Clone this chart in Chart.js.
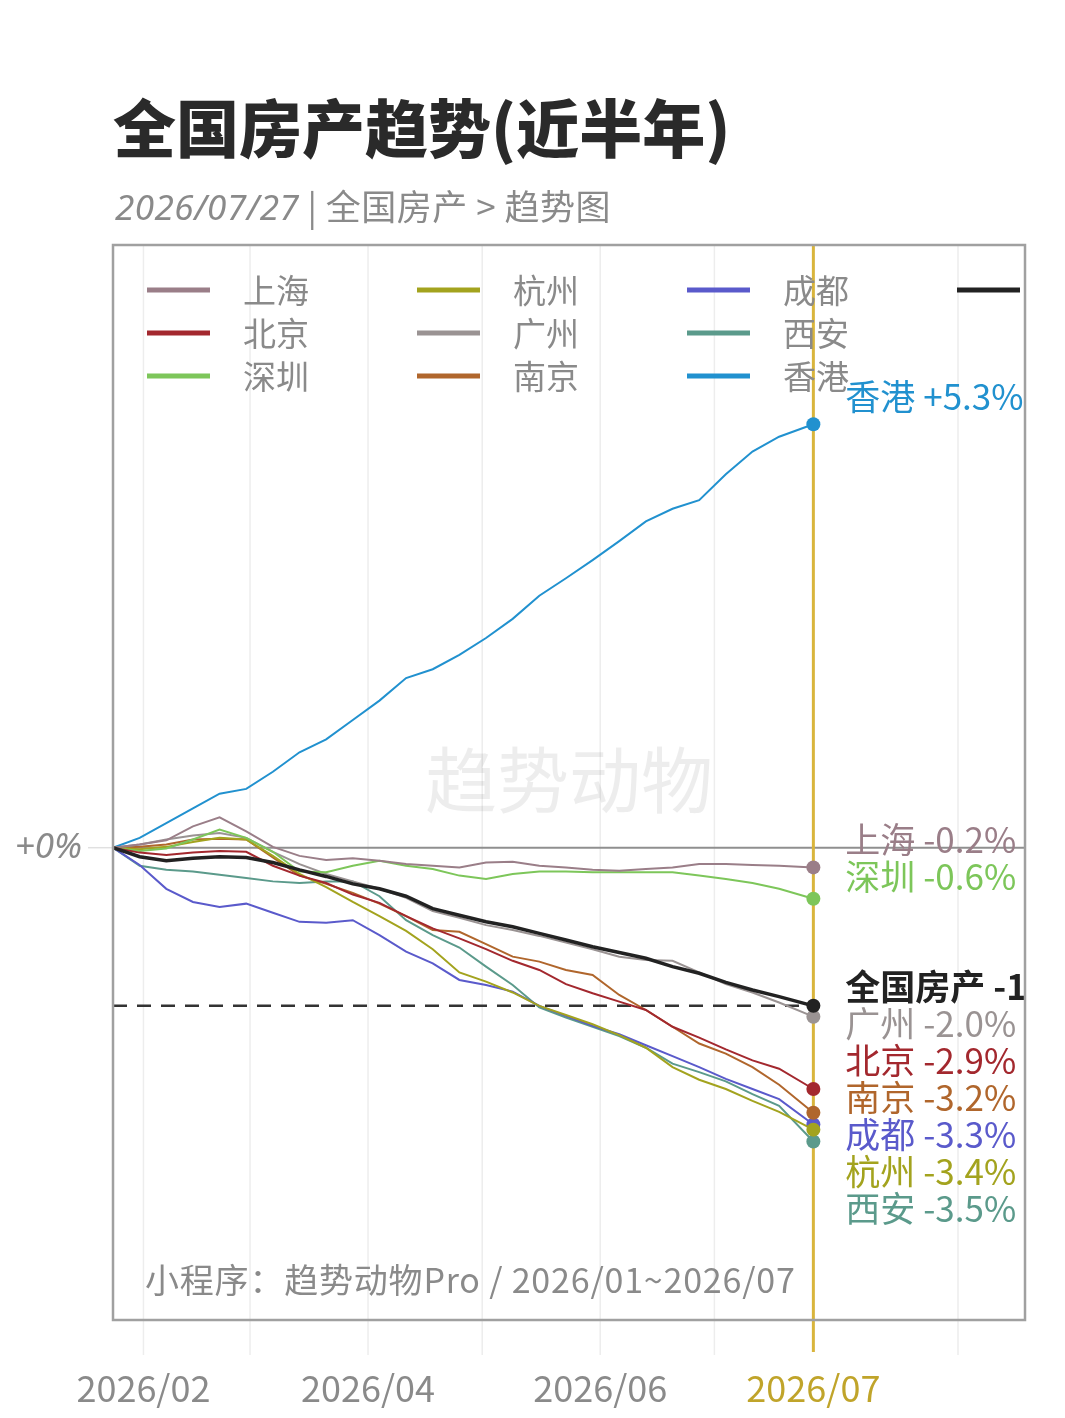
<!DOCTYPE html>
<html lang="zh">
  <head>
    <meta charset="UTF-8" />
    <title>全国房产趋势(近半年)</title>
    <script src="https://cdn.jsdelivr.net/npm/chart.js"></script>
    <style>
      body { margin: 0; background: #fff; font-family: "Noto Sans CJK SC", sans-serif; }
      #wrap { position: relative; width: 1065px; height: 1418px; overflow: hidden; }
      #c { position: absolute; left: 0; top: 0; }
      .title { position: absolute; left: 113px; top: 90px; font-size: 63px; line-height: 70px; font-weight: 900; color: #2a2a2a; }
      .sub { position: absolute; left: 115px; top: 184px; font-size: 35px; line-height: 42px; color: #8a8a8a; letter-spacing: 0.5px; }
      .sub i { font-family: "Noto Sans", sans-serif; }
    </style>
  </head>
  <body>
    <div id="wrap">
      <canvas id="c" width="1065" height="1418"></canvas>
      <div class="title">全国房产趋势(近半年)</div>
      <div class="sub"><i>2026/07/27</i> | 全国房产 &gt; 趋势图</div>
    </div>

    <script>
      // 日期 (2026-01-01 起的天数), 每周一个点, 最后一个是 07/27
      const days = [23, 30, 37, 44, 51, 58, 65, 72, 79, 86, 93, 100, 107, 114, 121, 128, 135, 142, 149, 156, 163, 170, 177, 184, 191, 198, 207];

      // 各城市涨跌幅 (%)
      const shanghai = [0, 0.04, 0.09, 0.26, 0.37, 0.2, 0.01, -0.1, -0.15, -0.13, -0.16, -0.2, -0.22, -0.24, -0.18, -0.17, -0.22, -0.24, -0.27, -0.28, -0.26, -0.24, -0.2, -0.2, -0.21, -0.22, -0.24];
      const beijing = [0, -0.06, -0.09, -0.06, -0.04, -0.05, -0.22, -0.34, -0.43, -0.57, -0.67, -0.83, -0.98, -1.1, -1.23, -1.37, -1.48, -1.65, -1.76, -1.86, -1.96, -2.16, -2.29, -2.43, -2.56, -2.66, -2.9];
      const shenzhen = [0, -0.04, -0.01, 0.1, 0.22, 0.12, -0.05, -0.29, -0.3, -0.22, -0.16, -0.22, -0.26, -0.34, -0.38, -0.32, -0.29, -0.29, -0.3, -0.3, -0.3, -0.3, -0.34, -0.38, -0.43, -0.5, -0.62];
      const hangzhou = [0, -0.02, 0.01, 0.07, 0.12, 0.1, -0.1, -0.32, -0.48, -0.66, -0.83, -1.01, -1.23, -1.51, -1.62, -1.75, -1.91, -2.02, -2.13, -2.26, -2.41, -2.64, -2.79, -2.9, -3.04, -3.17, -3.38];
      const guangzhou = [0, 0.04, 0.1, 0.15, 0.18, 0.12, -0.05, -0.2, -0.32, -0.41, -0.5, -0.61, -0.77, -0.85, -0.94, -1.0, -1.07, -1.15, -1.23, -1.32, -1.36, -1.37, -1.51, -1.65, -1.75, -1.87, -2.04];
      const nanjing = [0, 0.01, 0.04, 0.1, 0.11, 0.1, -0.12, -0.34, -0.44, -0.55, -0.68, -0.83, -1.0, -1.02, -1.17, -1.32, -1.38, -1.48, -1.54, -1.78, -1.96, -2.16, -2.36, -2.48, -2.64, -2.85, -3.18];
      const chengdu = [0, -0.21, -0.5, -0.66, -0.72, -0.68, -0.79, -0.9, -0.91, -0.88, -1.06, -1.26, -1.4, -1.6, -1.66, -1.74, -1.91, -2.03, -2.15, -2.25, -2.38, -2.51, -2.64, -2.78, -2.9, -3.02, -3.32];
      const xian = [0, -0.22, -0.27, -0.29, -0.33, -0.37, -0.41, -0.43, -0.41, -0.41, -0.59, -0.88, -1.06, -1.21, -1.44, -1.66, -1.93, -2.05, -2.16, -2.27, -2.41, -2.6, -2.7, -2.81, -2.96, -3.1, -3.52];
      const hongkong = [0, 0.12, 0.3, 0.48, 0.66, 0.72, 0.93, 1.17, 1.33, 1.57, 1.81, 2.09, 2.2, 2.38, 2.59, 2.83, 3.12, 3.34, 3.57, 3.81, 4.06, 4.22, 4.33, 4.66, 4.95, 5.14, 5.3];
      const national = [0, -0.11, -0.16, -0.13, -0.11, -0.12, -0.18, -0.27, -0.35, -0.44, -0.5, -0.59, -0.74, -0.82, -0.9, -0.96, -1.04, -1.12, -1.2, -1.27, -1.34, -1.44, -1.52, -1.63, -1.72, -1.8, -1.91];

      const names = ["上海", "北京", "深圳", "杭州", "广州", "南京", "成都", "西安", "香港", "全国房产"];
      const series = [shanghai, beijing, shenzhen, hangzhou, guangzhou, nanjing, chengdu, xian, hongkong, national];
      const colors = ["#9a7e88", "#a3282e", "#7dc65a", "#a3a31e", "#9a9393", "#b0662c", "#5a5acb", "#5b9a8b", "#2191cf", "#222222"];

      // x 轴
      const gridDays = [31, 59, 90, 120, 151, 181, 245];
      const tickDays = [31, 90, 151, 207];
      const tickLabels = ["2026/02", "2026/04", "2026/06", "2026/07"];

      const last = days.length - 1;
      // 按比例取对数, 和原图的纵轴一致
      const toLog = (p) => 100 * Math.log(1 + p / 100);
      const fmt = (p) => (p > 0 ? "+" : "") + p.toFixed(1) + "%";

      const decor = {
        id: "decor",
        beforeDatasetsDraw(chart) {
          const { ctx, chartArea: a, scales } = chart;
          const x = scales.x, y = scales.y;
          ctx.save();
          // 月份网格
          ctx.strokeStyle = "#ededed";
          ctx.lineWidth = 1.5;
          gridDays.forEach((d) => {
            const px = x.getPixelForValue(d);
            ctx.beginPath();
            ctx.moveTo(px, a.top);
            ctx.lineTo(px, a.bottom + 35);
            ctx.stroke();
          });
          // 水印
          ctx.font = '72px "Noto Sans CJK SC"';
          ctx.fillStyle = "rgba(0,0,0,0.07)";
          ctx.textAlign = "center";
          ctx.textBaseline = "middle";
          ctx.fillText("趋势动物", (a.left + a.right) / 2, a.top + 535);
          // 零线
          const y0 = y.getPixelForValue(0);
          ctx.strokeStyle = "#e0e0e0";
          ctx.lineWidth = 1.5;
          ctx.beginPath();
          ctx.moveTo(88, y0);
          ctx.lineTo(a.left, y0);
          ctx.stroke();
          ctx.strokeStyle = "#8f8f8f";
          ctx.lineWidth = 2;
          ctx.beginPath();
          ctx.moveTo(a.left, y0);
          ctx.lineTo(a.right, y0);
          ctx.stroke();
          // 全国虚线
          const ex = x.getPixelForValue(days[last]);
          const ny = y.getPixelForValue(toLog(national[last]));
          ctx.setLineDash([14, 10]);
          ctx.strokeStyle = "#333";
          ctx.lineWidth = 2.5;
          ctx.beginPath();
          ctx.moveTo(a.left, ny);
          ctx.lineTo(ex, ny);
          ctx.stroke();
          ctx.setLineDash([]);
          // 当前日期
          ctx.strokeStyle = "#d9b53c";
          ctx.lineWidth = 3;
          ctx.beginPath();
          ctx.moveTo(ex, a.top);
          ctx.lineTo(ex, a.bottom + 32);
          ctx.stroke();
          ctx.restore();
        },
        afterDatasetsDraw(chart) {
          const { ctx, chartArea: a, scales } = chart;
          const x = scales.x, y = scales.y;
          const ex = x.getPixelForValue(days[last]);
          ctx.save();
          ctx.beginPath();
          ctx.rect(a.left, a.top, a.width, a.height);
          ctx.clip();

          // 右侧标签, 从上往下排开
          const order = series.map((s, i) => i).sort((i, j) => series[j][last] - series[i][last]);
          let prev = -1e9;
          ctx.textAlign = "left";
          ctx.textBaseline = "middle";
          order.forEach((i) => {
            let ly = y.getPixelForValue(toLog(series[i][last])) - (i === 9 ? 19 : 28);
            ly = Math.max(ly, prev + 37);
            prev = ly;
            ctx.font = (i === 9 ? "700 " : "") + '35px "Noto Sans CJK SC"';
            ctx.fillStyle = colors[i];
            ctx.fillText(names[i] + " " + fmt(series[i][last]), ex + 32, ly);
          });

          // 图例 (按列排)
          ctx.font = '33px "Noto Sans CJK SC"';
          names.forEach((n, i) => {
            const col = Math.floor(i / 3), row = i % 3;
            const sx = a.left + 34 + col * 270;
            const sy = a.top + 45 + row * 43;
            ctx.strokeStyle = colors[i];
            ctx.lineWidth = 5;
            ctx.beginPath();
            ctx.moveTo(sx, sy);
            ctx.lineTo(sx + 63, sy);
            ctx.stroke();
            ctx.fillStyle = "#8a8a8a";
            ctx.fillText(n, sx + 96, sy);
          });

          // 来源
          ctx.font = '34px "Noto Sans CJK SC"';
          ctx.letterSpacing = "0.8px";
          ctx.fillStyle = "#8a8a8a";
          ctx.fillText("小程序：趋势动物Pro / 2026/01~2026/07", a.left + 32, a.bottom - 40);
          ctx.letterSpacing = "0px";
          ctx.restore();

          ctx.save();
          // 边框
          ctx.strokeStyle = "#a0a0a0";
          ctx.lineWidth = 2.5;
          ctx.strokeRect(a.left, a.top, a.width, a.height);
          // x 轴标签
          ctx.font = '36px "Noto Sans CJK SC"';
          ctx.textAlign = "center";
          ctx.textBaseline = "middle";
          tickDays.forEach((d, i) => {
            ctx.fillStyle = i === tickDays.length - 1 ? "#c0a42a" : "#8a8a8a";
            ctx.fillText(tickLabels[i], x.getPixelForValue(d), a.bottom + 68);
          });
          // 零点
          ctx.font = 'italic 35px "Noto Sans"';
          ctx.textAlign = "right";
          ctx.fillStyle = "#8a8a8a";
          ctx.fillText("+0%", 82, y.getPixelForValue(0));
          ctx.restore();
        },
      };

      const datasets = series.map((s, i) => ({
        label: names[i],
        data: days.map((d, k) => ({ x: d, y: toLog(s[k]) })),
        borderColor: colors[i],
        backgroundColor: colors[i],
        borderWidth: i === 9 ? 3.5 : 2,
        order: i === 9 ? -1 : 0,
        pointRadius: (c) => (c.dataIndex === last ? 7 : 0),
        pointBorderWidth: 0,
        pointBackgroundColor: colors[i],
        tension: 0,
        clip: false,
      }));

      new Chart(document.getElementById("c").getContext("2d"), {
        type: "line",
        data: { datasets: datasets },
        options: {
          responsive: false,
          animation: false,
          devicePixelRatio: 1,
          layout: { padding: { left: 113, top: 245, right: 40, bottom: 98 } },
          scales: {
            x: { type: "linear", min: 23, max: 262.6, display: false },
            y: { min: -5.76, max: 7.35, display: false },
          },
          plugins: { legend: { display: false }, tooltip: { enabled: false } },
        },
        plugins: [decor],
      });
    </script>
  </body>
</html>
